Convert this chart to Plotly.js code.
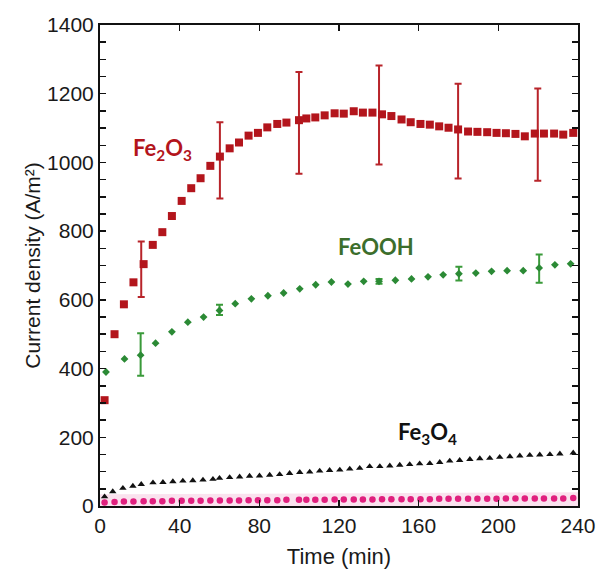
<!DOCTYPE html>
<html>
<head>
<meta charset="utf-8">
<script src="https://cdn.plot.ly/plotly-3.0.1.min.js"></script>
<style>html,body{margin:0;padding:0;background:#fff;}#chart{width:597px;height:572px;}</style>
</head>
<body>
<div id="chart"></div>
<script>
// Fe2O3 (red squares)
const fe2o3Time = [2.3, 7.3, 12, 16.8, 21.9, 26.5, 31.3, 36.1, 41, 45.8, 50.5, 55.4, 60.2, 65.1, 69.8, 74.6, 79.3, 84, 89, 93.6, 99.9, 103.6, 108.1, 112.8, 117.8, 122.4, 127.4, 132, 136.8, 141.6, 146.3, 151.4, 156, 160.9, 165.6, 170.3, 175, 179.8, 184.8, 189.5, 194.4, 199.1, 203.8, 208.6, 213.3, 218.3, 222.9, 228, 232.6, 237.6];
const fe2o3Value = [308, 500, 587, 651, 704, 760, 797, 844, 888, 925, 954, 990, 1017, 1041, 1058, 1078, 1086, 1102, 1112, 1116, 1123, 1128, 1131, 1137, 1143, 1142, 1149, 1145, 1145, 1140, 1135, 1125, 1117, 1112, 1110, 1105, 1101, 1096, 1090, 1089, 1088, 1086, 1085, 1083, 1076, 1084, 1084, 1084, 1081, 1086];
const fe2o3ErrTime = [20.7, 60.2, 99.9, 140.1, 179.8, 219.8];
const fe2o3ErrMean = [689, 1006, 1115, 1138, 1091, 1081];
const fe2o3ErrSize = [81, 111, 148, 144, 138, 134];

// FeOOH (green diamonds)
const feoohTime = [3, 12.3, 20.4, 27.9, 36.1, 44.1, 52, 60, 67.9, 76, 84.3, 92.2, 100.3, 108.3, 116.2, 124.5, 132.4, 140.1, 148.3, 156.4, 164.7, 172.3, 180.2, 188.7, 196.6, 204.4, 212.5, 220.5, 228.4, 236.3];
const feoohValue = [390, 428, 439, 474, 507, 535, 550, 569, 589, 603, 612, 620, 632, 644, 652, 646, 654, 654, 657, 661, 667, 673, 676, 678, 683, 685, 685, 693, 702, 705];
const feoohErrTime = [20.4, 60, 140.1, 180.2, 220.5];
const feoohErrMean = [441, 571, 654, 676, 691];
const feoohErrSize = [62, 15, 7, 20, 41];

// Fe3O4 (black triangles)
const fe3o4Time = [2.3, 6.4, 11.5, 16.5, 20.7, 26.6, 31.6, 36.6, 41.6, 46.6, 51.7, 56.7, 60, 65.1, 70.1, 75.1, 80.1, 85.2, 90.2, 95.2, 100.3, 105.3, 110.3, 115.3, 120.4, 125.4, 130.4, 135.4, 140.5, 145.5, 150.5, 155.5, 160.5, 165.6, 170.6, 175.6, 180.6, 185.7, 190.7, 195.7, 200.7, 205.8, 210.8, 215.8, 220.8, 225.9, 230.9, 237.6];
const fe3o4Value = [27, 42, 52, 58, 63, 68, 69, 71, 73, 74, 76, 78, 81, 83, 85, 87, 88, 90, 92, 95, 98, 99, 102, 104, 105, 108, 110, 115, 115, 117, 119, 121, 123, 124, 127, 131, 133, 136, 138, 139, 142, 144, 146, 148, 149, 150, 152, 155];

// Fourth series (pink circles) with its faint band
const pinkTime = [2.3, 7.3, 12, 16.8, 21.9, 26.5, 31.3, 36.1, 41, 45.8, 50.5, 55.4, 60.2, 65.1, 69.8, 74.6, 79.3, 84, 89, 93.6, 99.9, 103.6, 108.1, 112.8, 117.8, 122.4, 127.4, 132, 136.8, 141.6, 146.3, 151.4, 156, 160.9, 165.6, 170.3, 175, 179.8, 184.8, 189.5, 194.4, 199.1, 203.8, 208.6, 213.3, 218.3, 222.9, 228, 232.6, 237.6];
const pinkValue = [10, 12, 13, 13, 14, 14, 14, 15, 15, 15, 15, 16, 16, 16, 16, 17, 17, 17, 17, 18, 18, 18, 18, 18, 19, 19, 19, 19, 19, 20, 20, 20, 20, 20, 20, 21, 21, 21, 21, 21, 21, 21, 22, 22, 22, 22, 22, 22, 22, 23];
const pinkBandTime = [0, 240];
const pinkBandUpper = [34, 40];
const pinkBandLower = [0, 0];

const labelText = ['Fe<sub>2</sub>O<sub>3</sub>', 'FeOOH', 'Fe<sub>3</sub>O<sub>4</sub>'];
const labelTime = [31.4, 138.7, 164.6];
const labelValue = [1038, 756, 212];

const RED = '#b3151c', GREEN = '#2b8a35', PINK = '#e0207e';

const traces = [
  {x: pinkBandTime, y: pinkBandLower, mode: 'lines', line: {width: 0}, hoverinfo: 'skip', showlegend: false},
  {x: pinkBandTime, y: pinkBandUpper, mode: 'lines', line: {width: 0}, fill: 'tonexty', fillcolor: 'rgba(240,160,200,0.3)', hoverinfo: 'skip', showlegend: false},
  {x: pinkTime, y: pinkValue, mode: 'markers', marker: {symbol: 'circle', size: 6.5, color: PINK}, showlegend: false},
  {x: fe3o4Time, y: fe3o4Value, mode: 'markers', marker: {symbol: 'triangle-up', size: 6.5, color: '#111'}, showlegend: false},
  {x: feoohErrTime, y: feoohErrMean, mode: 'markers', marker: {size: 1, color: 'rgba(0,0,0,0)'},
   error_y: {type: 'data', array: feoohErrSize, visible: true, color: '#3a9a3a', thickness: 2, width: 3.5}, showlegend: false},
  {x: feoohTime, y: feoohValue, mode: 'markers', marker: {symbol: 'diamond', size: 6, color: GREEN}, showlegend: false},
  {x: fe2o3ErrTime, y: fe2o3ErrMean, mode: 'markers', marker: {size: 1, color: 'rgba(0,0,0,0)'},
   error_y: {type: 'data', array: fe2o3ErrSize, visible: true, color: '#b8242a', thickness: 2, width: 3.5}, showlegend: false},
  {x: fe2o3Time, y: fe2o3Value, mode: 'markers', marker: {symbol: 'square', size: 8, color: RED}, showlegend: false}
];

const labelColors = [RED, '#3c6e2c', '#111'];
const annotations = labelText.map((t, i) => ({
  x: labelTime[i], y: labelValue[i], xref: 'x', yref: 'y', text: t, showarrow: false,
  font: {family: 'Lato, "Open Sans", sans-serif', size: 22, color: labelColors[i], weight: 'bold'}
}));

const axisCommon = {
  showline: true, linecolor: '#111', linewidth: 2, mirror: 'ticks',
  ticks: 'inside', ticklen: 6, tickwidth: 1.5, tickcolor: '#111',
  showgrid: false, zeroline: false,
  tickfont: {family: '"Liberation Sans", Arial, sans-serif', size: 21, color: '#1a1a1a'}
};

const layout = {
  width: 597, height: 572,
  margin: {l: 100, r: 19, t: 25, b: 66},
  paper_bgcolor: '#fff', plot_bgcolor: '#fff',
  showlegend: false,
  xaxis: Object.assign({}, axisCommon, {
    range: [0, 240], tickmode: 'linear', tick0: 0, dtick: 40,
    title: {text: 'Time (min)', font: {family: '"Liberation Sans", Arial, sans-serif', size: 22, color: '#1a1a1a'}, standoff: 12}
  }),
  yaxis: Object.assign({}, axisCommon, {
    range: [0, 1400], tickmode: 'linear', tick0: 0, dtick: 200,
    minor: {dtick: 50, ticks: 'inside', ticklen: 6, tickwidth: 1.5, tickcolor: '#111', showgrid: false},
    title: {text: 'Current density (A/m²)', font: {family: '"Liberation Sans", Arial, sans-serif', size: 21, color: '#1a1a1a'}, standoff: 1}
  }),
  annotations: annotations
};

Plotly.newPlot('chart', traces, layout, {displayModeBar: false, staticPlot: true});
</script>
</body>
</html>
